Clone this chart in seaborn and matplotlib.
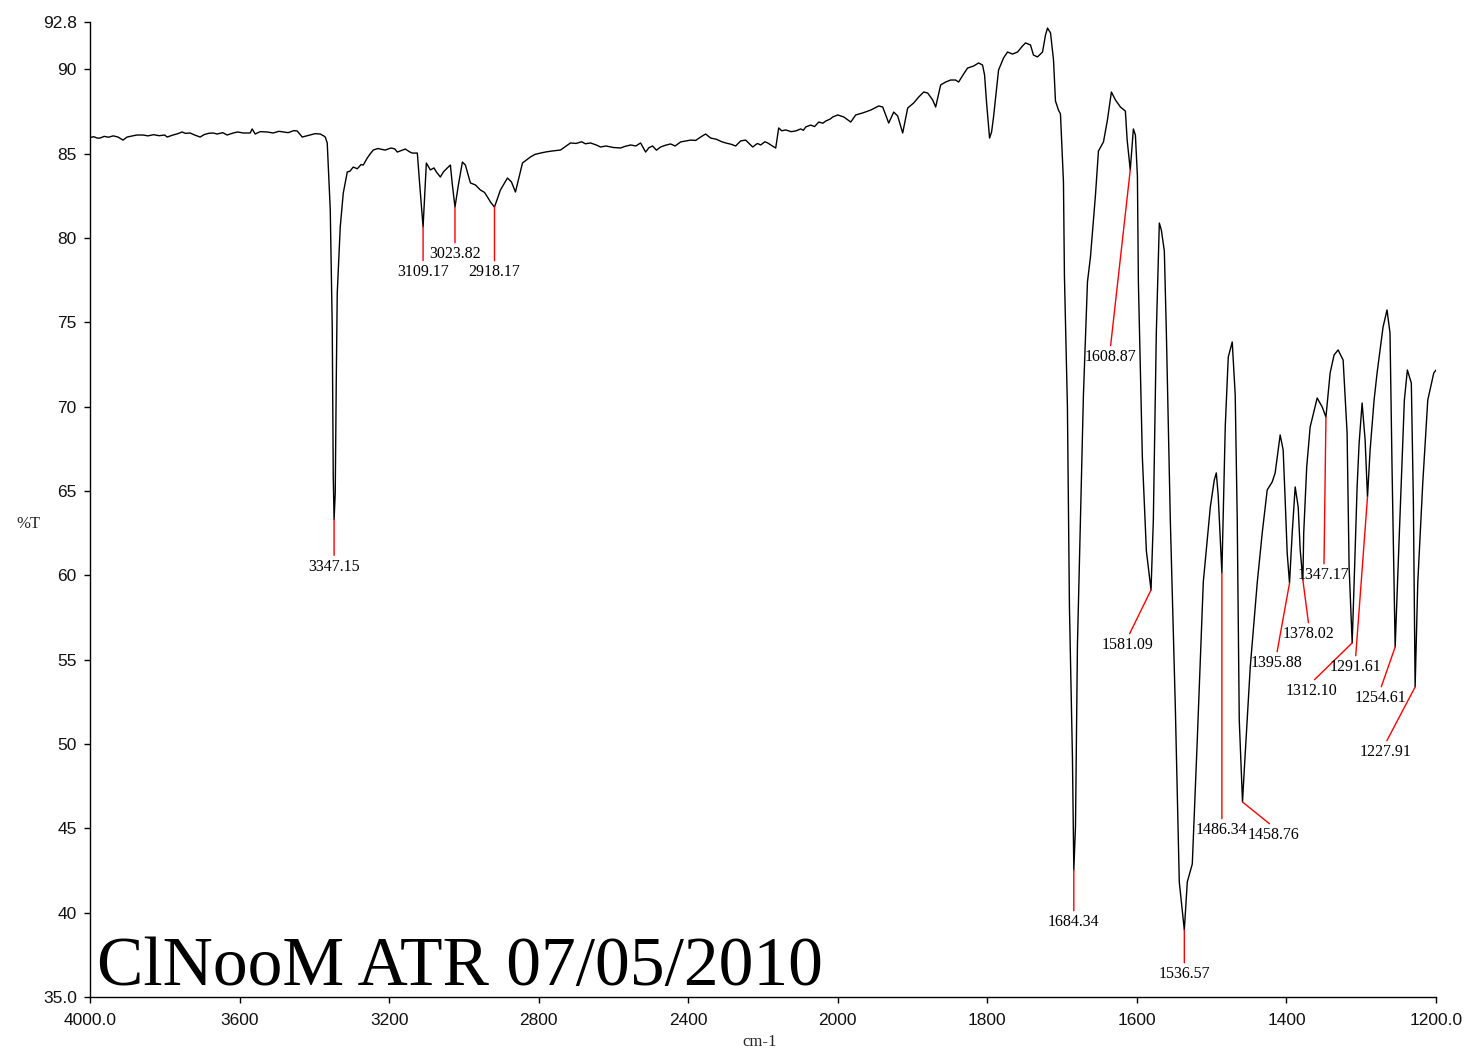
import numpy as np
import pandas as pd
import matplotlib
matplotlib.use("Agg")
import matplotlib.pyplot as plt
import seaborn as sns

# ---------------- data ----------------
wavenumber = [
    4000.0, 3990.0, 3981.0, 3973.2, 3962.0, 3950.0, 3938.0, 3925.0, 3911.6, 3900.9,
    3888.0, 3875.0, 3858.1, 3845.0, 3830.0, 3815.0, 3800.0, 3793.8, 3777.8, 3765.0,
    3753.7, 3745.0, 3732.3, 3720.0, 3705.5, 3695.0, 3683.0, 3670.7, 3660.0, 3645.0,
    3633.2, 3617.1, 3605.0, 3590.0, 3571.6, 3566.3, 3558.3, 3545.0, 3526.1, 3510.0,
    3495.0, 3483.3, 3470.0, 3455.0, 3445.8, 3432.4, 3420.0, 3411.0, 3398.0, 3384.2,
    3375.0, 3370.8, 3365.5, 3357.4, 3352.1, 3349.4, 3347.15, 3344.1, 3341.4, 3338.7,
    3330.7, 3322.6, 3311.9, 3305.0, 3295.9, 3285.0, 3275.0, 3269.1, 3258.4, 3250.0,
    3242.3, 3230.0, 3220.0, 3210.2, 3195.0, 3185.0, 3178.1, 3165.0, 3156.7, 3145.0,
    3137.9, 3124.5, 3119.1, 3109.17, 3100.4, 3089.7, 3080.0, 3073.6, 3062.9, 3054.9,
    3044.2, 3036.1, 3030.8, 3023.82, 3014.7, 3004.0, 2996.0, 2982.6, 2969.2, 2955.8,
    2945.0, 2937.1, 2928.0, 2918.17, 2902.3, 2883.5, 2872.8, 2862.1, 2843.3, 2821.9,
    2810.0, 2795.2, 2780.0, 2765.0, 2741.6, 2714.9, 2700.0, 2685.0, 2675.0, 2661.3,
    2645.0, 2634.5, 2620.0, 2600.0, 2580.9, 2570.0, 2554.2, 2540.0, 2527.4, 2514.0,
    2505.0, 2495.3, 2485.0, 2473.9, 2460.0, 2447.1, 2435.0, 2420.3, 2405.0, 2393.6,
    2380.0, 2366.8, 2353.4, 2340.0, 2325.0, 2310.0, 2299.9, 2285.0, 2273.1, 2259.7,
    2246.3, 2235.0, 2227.6, 2215.0, 2206.2, 2195.0, 2187.4, 2175.0, 2166.0, 2158.0,
    2150.0, 2139.2, 2125.0, 2112.5, 2099.1, 2092.0, 2085.7, 2072.3, 2062.0, 2050.9,
    2040.0, 2032.1, 2020.0, 2013.4, 2000.0, 1992.0, 1982.6, 1976.0, 1966.6, 1955.9,
    1945.3, 1939.9, 1931.9, 1925.2, 1919.9, 1913.2, 1909.2, 1906.5, 1898.5, 1891.8,
    1885.1, 1879.8, 1873.1, 1869.1, 1862.4, 1855.8, 1849.1, 1842.4, 1838.4, 1831.7,
    1826.4, 1818.4, 1811.7, 1806.4, 1803.7, 1801.0, 1797.0, 1794.3, 1791.7, 1785.0,
    1778.3, 1773.0, 1766.3, 1759.6, 1752.9, 1748.9, 1742.3, 1738.3, 1732.9, 1726.2,
    1722.2, 1719.5, 1715.5, 1711.5, 1708.9, 1704.9, 1702.2, 1698.2, 1696.9, 1692.9,
    1690.2, 1686.2, 1684.34, 1682.1, 1679.5, 1675.5, 1671.5, 1666.1, 1662.1, 1655.4,
    1651.4, 1644.7, 1639.4, 1634.1, 1628.7, 1622.0, 1615.4, 1613.0, 1608.87, 1604.7,
    1602.0, 1599.3, 1598.0, 1592.7, 1587.3, 1581.09, 1578.0, 1574.0, 1570.0, 1567.3,
    1563.3, 1560.6, 1555.3, 1548.6, 1543.3, 1536.57, 1532.6, 1525.9, 1519.2, 1511.2,
    1501.8, 1496.5, 1493.8, 1491.3, 1486.34, 1481.8, 1477.8, 1472.5, 1468.5, 1465.8,
    1463.1, 1458.76, 1456.4, 1448.4, 1439.1, 1432.4, 1425.7, 1419.1, 1415.1, 1408.4,
    1404.4, 1401.7, 1399.0, 1395.88, 1392.3, 1388.3, 1384.3, 1381.6, 1378.02, 1376.9,
    1372.9, 1368.3, 1358.9, 1352.2, 1347.17, 1341.6, 1336.3, 1330.9, 1324.2, 1318.9,
    1316.2, 1312.10, 1309.5, 1305.5, 1302.8, 1298.8, 1294.8, 1291.61, 1288.1, 1282.8,
    1278.8, 1270.8, 1265.5, 1261.5, 1258.8, 1254.61, 1249.0, 1242.3, 1238.3, 1233.0,
    1230.3, 1227.91, 1224.4, 1217.7, 1211.0, 1203.0, 1200.0,
]
transmittance = [
    85.95, 86.00, 85.92, 85.92, 86.02, 85.97, 86.05, 85.98, 85.80, 85.98,
    86.04, 86.10, 86.10, 86.05, 86.12, 86.06, 86.10, 85.98, 86.10, 86.18,
    86.28, 86.20, 86.22, 86.10, 85.98, 86.12, 86.20, 86.22, 86.16, 86.24,
    86.10, 86.22, 86.28, 86.22, 86.22, 86.46, 86.16, 86.30, 86.28, 86.22,
    86.32, 86.28, 86.24, 86.36, 86.34, 85.98, 86.05, 86.10, 86.18, 86.16,
    86.05, 85.98, 85.63, 81.66, 74.72, 65.83, 63.30, 64.88, 71.40, 76.74,
    80.65, 82.66, 83.91, 83.95, 84.20, 84.10, 84.35, 84.32, 84.74, 85.00,
    85.21, 85.30, 85.25, 85.21, 85.33, 85.28, 85.09, 85.20, 85.27, 85.10,
    85.03, 85.03, 83.43, 80.65, 84.44, 84.03, 84.15, 83.91, 83.61, 83.91,
    84.15, 84.32, 83.14, 81.83, 83.14, 84.50, 84.32, 83.26, 83.14, 82.84,
    82.70, 82.43, 82.10, 81.83, 82.84, 83.55, 83.32, 82.72, 84.44, 84.80,
    84.95, 85.03, 85.10, 85.15, 85.21, 85.63, 85.60, 85.70, 85.58, 85.63,
    85.50, 85.39, 85.45, 85.36, 85.33, 85.42, 85.51, 85.45, 85.63, 85.09,
    85.35, 85.45, 85.20, 85.39, 85.50, 85.57, 85.45, 85.69, 85.75, 85.80,
    85.78, 85.98, 86.16, 85.92, 85.85, 85.70, 85.63, 85.55, 85.45, 85.75,
    85.80, 85.55, 85.39, 85.60, 85.51, 85.70, 85.63, 85.45, 85.33, 86.52,
    86.35, 86.40, 86.30, 86.34, 86.46, 86.38, 86.58, 86.69, 86.60, 86.87,
    86.80, 86.93, 87.05, 87.17, 87.29, 87.17, 86.87, 87.29, 87.41, 87.58,
    87.82, 87.76, 86.81, 87.46, 87.23, 86.22, 87.11, 87.70, 88.00, 88.35,
    88.65, 88.59, 88.18, 87.76, 89.07, 89.24, 89.36, 89.36, 89.24, 89.72,
    90.07, 90.19, 90.37, 90.25, 89.66, 88.00, 85.92, 86.28, 87.17, 89.95,
    90.67, 91.02, 90.90, 91.02, 91.38, 91.56, 91.44, 90.84, 90.73, 91.02,
    92.03, 92.44, 92.15, 90.55, 88.12, 87.58, 87.35, 83.32, 77.74, 69.98,
    58.12, 49.23, 42.53, 45.14, 55.87, 63.28, 70.69, 77.39, 78.87, 82.54,
    85.15, 85.69, 86.99, 88.65, 88.18, 87.76, 87.52, 85.80, 84.03, 86.46,
    86.10, 83.67, 77.39, 67.01, 61.44, 59.13, 63.28, 74.42, 80.88, 80.47,
    79.22, 74.42, 63.28, 52.19, 41.82, 38.97, 41.82, 42.89, 50.30, 59.60,
    64.05, 65.65, 66.07, 64.76, 60.14, 68.85, 72.94, 73.83, 70.69, 63.28,
    51.42, 46.56, 48.46, 54.56, 59.54, 62.51, 65.06, 65.53, 66.07, 68.32,
    67.43, 64.46, 61.32, 59.54, 62.51, 65.24, 64.05, 61.50, 59.72, 62.51,
    66.42, 68.79, 70.51, 69.98, 69.38, 71.99, 73.06, 73.36, 72.76, 68.44,
    60.49, 55.99, 59.54, 65.24, 67.84, 70.21, 68.02, 64.64, 67.43, 70.39,
    71.99, 74.72, 75.73, 74.36, 66.42, 55.75, 62.51, 70.39, 72.17, 71.40,
    64.46, 53.38, 59.54, 65.47, 70.39, 71.99, 72.17,
]

peak_labels = ["3347.15", "3109.17", "3023.82", "2918.17", "1684.34", "1608.87",
               "1581.09", "1536.57", "1486.34", "1458.76", "1395.88", "1378.02",
               "1347.17", "1312.10", "1291.61", "1254.61", "1227.91"]
peak_wavenumber = [3347.15, 3109.17, 3023.82, 2918.17, 1684.34, 1608.87,
                   1581.09, 1536.57, 1486.34, 1458.76, 1395.88, 1378.02,
                   1347.17, 1312.10, 1291.61, 1254.61, 1227.91]
peak_transmittance = [63.30, 80.65, 81.83, 81.83, 42.53, 84.03,
                      59.13, 38.97, 60.14, 46.56, 59.54, 59.72,
                      69.38, 55.99, 64.64, 55.75, 53.38]

x_ticks = [4000, 3600, 3200, 2800, 2400, 2000, 1800, 1600, 1400, 1200]
x_tick_labels = ["4000.0", "3600", "3200", "2800", "2400", "2000", "1800", "1600", "1400", "1200.0"]
y_ticks = [35, 40, 45, 50, 55, 60, 65, 70, 75, 80, 85, 90, 92.8]
y_tick_labels = ["35.0", "40", "45", "50", "55", "60", "65", "70", "75", "80", "85", "90", "92.8"]

title_text = "ClNooM ATR 07/05/2010"
x_label = "cm-1"
y_label = "%T"

# label placement (screen pixel offsets from each peak: dx right, dy down)
label_offsets = [(0, 39), (0, 37), (0, 39), (0, 57), (0, 44), (-20, 179),
                 (-23, 47), (0, 36), (0, 249), (31, 25), (-13, 72), (6, 46),
                 (-2, 150), (-41, 40), (-12, 162), (-15, 43), (-30, 57)]

# ---------------- plot ----------------
sns.set_style("ticks")
plt.rcParams["font.family"] = ["Liberation Sans", "DejaVu Sans"]

W, H = 1466, 1052
fig = plt.figure(figsize=(W / 100, H / 100), dpi=100)
ax = fig.add_axes([90 / W, 1 - 997 / H, 1346 / W, 975 / H])

df = pd.DataFrame({"wavenumber": wavenumber, "T": transmittance})
sns.lineplot(data=df, x="wavenumber", y="T", sort=False, estimator=None,
             color="black", linewidth=1.0, ax=ax)


def fwd(x):
    x = np.asarray(x, dtype=float)
    return np.where(x >= 2000, x, 2 * x - 2000)


def inv(y):
    y = np.asarray(y, dtype=float)
    return np.where(y >= 2000, y, (y + 2000) / 2)


ax.set_xscale("function", functions=(fwd, inv))
ax.set_xlim(4000, 1200)
ax.set_ylim(35, 92.8)

ax.set_xticks(x_ticks)
ax.set_xticklabels(x_tick_labels)
ax.set_yticks(y_ticks)
ax.set_yticklabels(y_tick_labels)
ax.minorticks_off()
ax.tick_params(axis="both", direction="out", length=4.5, width=1.0, color="black",
               labelsize=12.5, labelcolor="#111111")
ax.tick_params(axis="x", pad=7)
ax.tick_params(axis="y", pad=5)

for s in ["top", "right"]:
    ax.spines[s].set_visible(False)
for s in ["left", "bottom"]:
    ax.spines[s].set_linewidth(1.0)
    ax.spines[s].set_color("black")

serif = ["Liberation Serif", "DejaVu Serif"]
ax.set_xlabel(x_label, family=serif, fontsize=12)
ax.set_ylabel(y_label, family=serif, fontsize=12, rotation=0)
ax.xaxis.set_label_coords((760 - 90) / 1346, -(1042 - 997) / 975)
ax.yaxis.set_label_coords((28 - 90) / 1346, 1 - (524 - 22) / 975)
ax.xaxis.label.set_verticalalignment("center")
ax.yaxis.label.set_verticalalignment("center")
ax.yaxis.label.set_horizontalalignment("center")

for lab, wn, t, (dx, dy) in zip(peak_labels, peak_wavenumber, peak_transmittance, label_offsets):
    ax.annotate(lab, xy=(wn, t), xytext=(dx, -dy), textcoords="offset pixels",
                ha="center", va="top", family=serif, fontsize=11.5, color="black",
                arrowprops=dict(arrowstyle="-", color="red", lw=1.0,
                                shrinkA=0, shrinkB=0, relpos=(0.5, 1.0)))

ax.text((97 - 90) / 1346, (997 - 985) / 975, title_text, transform=ax.transAxes,
        family=serif, fontsize=50, ha="left", va="baseline", color="black")

fig.savefig("out.png", dpi=100)
